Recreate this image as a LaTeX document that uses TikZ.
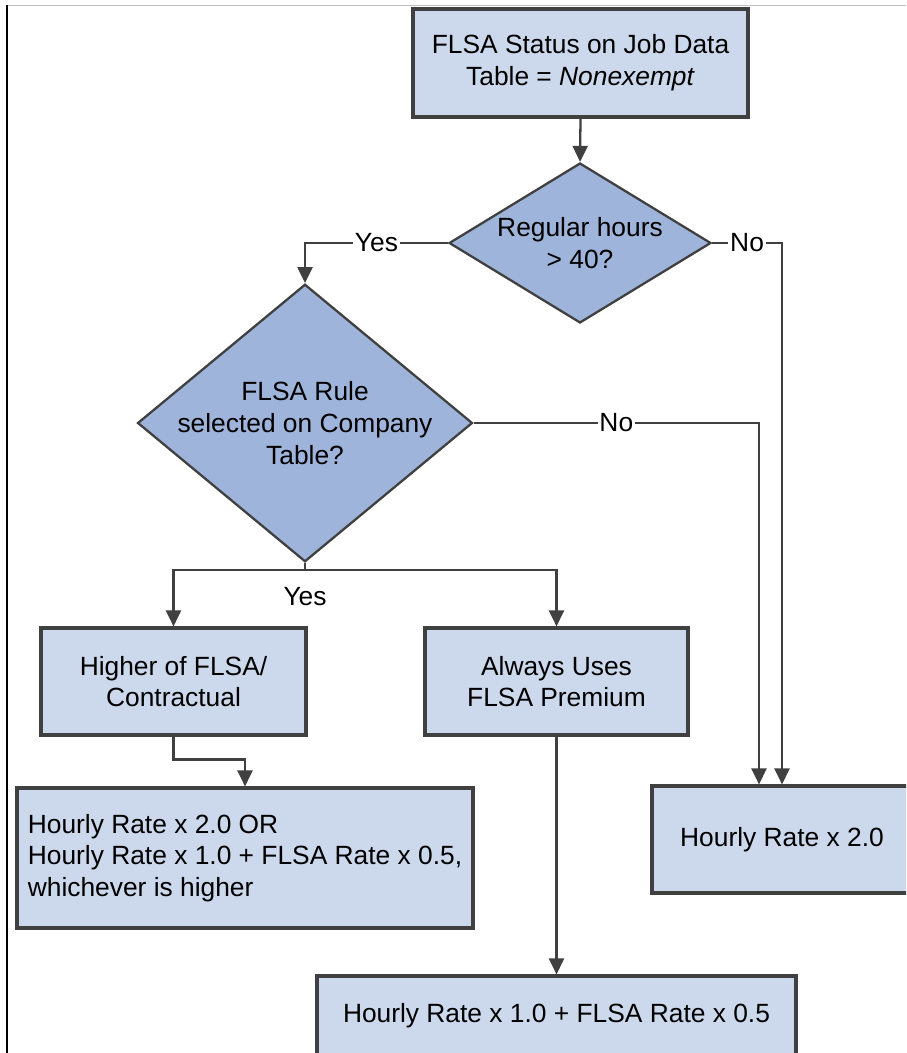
\documentclass[tikz,border=0pt]{standalone}
\usepackage{fontspec}
\setmainfont{Liberation Sans}
\usetikzlibrary{shapes.geometric,arrows.meta}
\definecolor{boxblue}{HTML}{CCD9EC}
\definecolor{diablue}{HTML}{9FB4DA}
\definecolor{edge}{HTML}{404040}

\begin{document}
\begin{tikzpicture}[x=0.02cm, y=-0.02cm,
  every node/.style={font=\fontsize{15}{18}\selectfont},
  box/.style={draw=edge, fill=boxblue, line width=1.8pt, inner sep=0pt, align=center},
  decision/.style={diamond, draw=edge, fill=diablue, line width=1.3pt, inner sep=-0.3cm, align=center},
  flow/.style={draw=edge, line width=1.3pt, -{Triangle[length=0.32cm, width=0.3cm]}},
  conn/.style={draw=edge, line width=1.3pt},
  lbl/.style={fill=white, inner sep=1pt}]
\clip (0,0) rectangle (906,1053);
\fill[white] (0,0) rectangle (906,1053);
% frame
\draw[gray!50, line width=0.8pt] (7,5.5) -- (906,5.5);
\draw[black, line width=0.7pt] (7,5.5) -- (7,1053);

% nodes
\node[box, minimum width=6.7cm, minimum height=2.16cm] (start) at (580.5,63)
  {FLSA Status on Job Data\\Table = \textit{Nonexempt}};
\node[decision, minimum width=5.24cm, minimum height=3.2cm] (q1) at (580,243)
  {Regular hours\\> 40?};
\node[decision, minimum width=6.7cm, minimum height=4.24cm] (q2) at (305,423)
  {FLSA Rule\\selected on Company\\Table?};
\node[box, minimum width=5.3cm, minimum height=2.14cm] (higher) at (173.5,681.5)
  {Higher of FLSA/\\Contractual};
\node[box, minimum width=5.26cm, minimum height=2.14cm] (always) at (556.5,681.5)
  {Always Uses\\FLSA Premium};
\node[box, align=left, minimum width=9.12cm, minimum height=2.8cm] (orbox) at (245,858)
  {Hourly Rate x 2.0 OR\\Hourly Rate x 1.0 + FLSA Rate x 0.5,\\whichever is higher};
\node[box, minimum width=5.2cm, minimum height=2.14cm] (two) at (782,839.5)
  {Hourly Rate x 2.0};
\node[box, minimum width=9.58cm, minimum height=1.6cm] (bottom) at (556.5,1016)
  {Hourly Rate x 1.0 + FLSA Rate x 0.5};

% connectors
\draw[flow] (start.south) -- (q1.north);
\draw[flow] (q1.west) -| node[lbl, pos=0.25] {Yes} (q2.north);
\draw[flow] (q1.east) -| node[lbl, pos=0.25] {No} (two.north);
\draw[flow] (q2.east) -| node[lbl, pos=0.25] {No} ([xshift=-0.46cm]two.north);
\coordinate (split) at (305,570);
\draw[conn] (q2.south) -- (split) node[below=6pt] {Yes};
\draw[flow] (split) -| (higher.north);
\draw[flow] (split) -| (always.north);
\draw[flow] (higher.south) -- ++(0,23) -| (orbox.north);
\draw[flow] (always.south) -- (bottom.north);
\end{tikzpicture}
\end{document}
